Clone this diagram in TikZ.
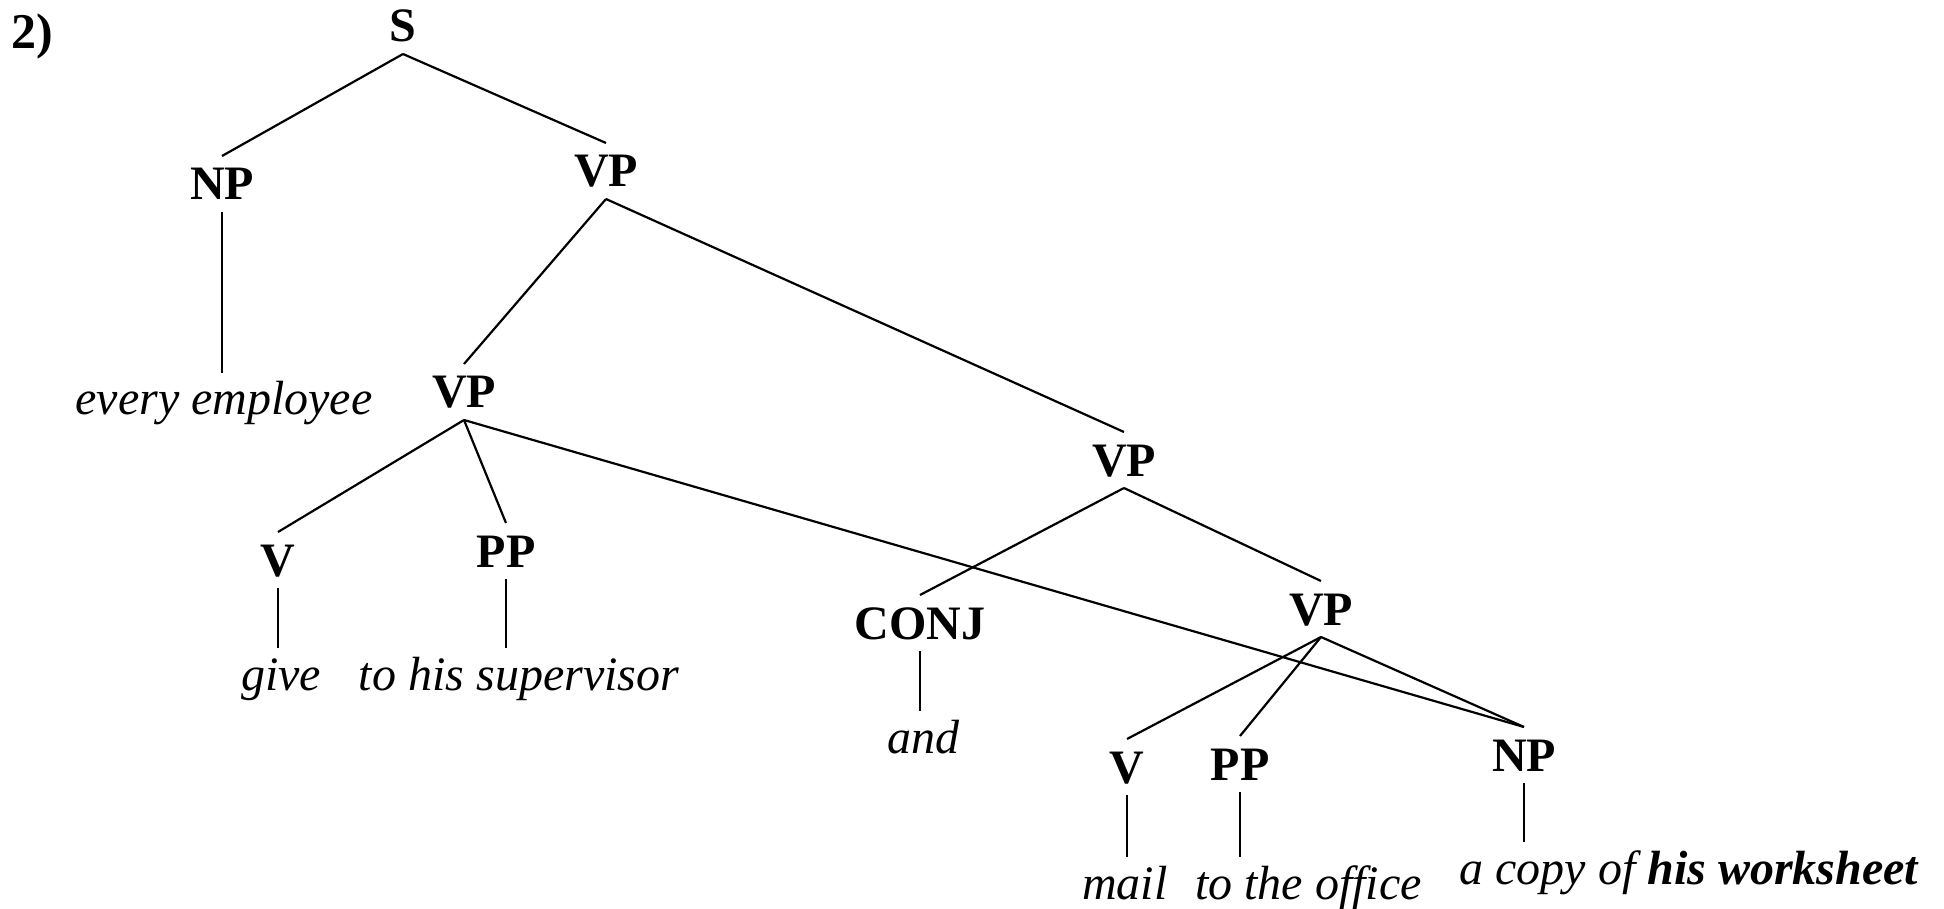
\documentclass[tikz,border=0pt]{standalone}
\usepackage{fontspec}
\setmainfont{Liberation Serif}
\begin{document}
\begin{tikzpicture}[x=0.5pt,y=-0.5pt,
  lab/.style={font=\bfseries\fontsize{24}{24}\selectfont, inner sep=0pt, outer sep=6pt, text height=16pt, text depth=0pt},
  term/.style={font=\itshape\fontsize{24}{24}\selectfont, inner sep=0pt, outer sep=6pt, text height=15pt, text depth=5pt},
  br/.style={line width=1.1pt}]
\useasboundingbox (0,0) rectangle (1944,909);
% labels
\node[font=\bfseries\fontsize{25}{25}\selectfont, inner sep=0pt] (num) at (32,36) {2)};
\node[lab] (S) at (403,26) {S};
\node[lab] (NP1) at (222,184) {NP};
\node[lab] (VP1) at (606,171) {VP};
\node[lab] (VP2) at (464,392) {VP};
\node[lab] (VP3) at (1124,460) {VP};
\node[lab] (V1) at (278,560) {V};
\node[lab] (PP1) at (506,551) {PP};
\node[lab] (CONJ) at (920,623) {CONJ};
\node[lab] (VP4) at (1321,609) {VP};
\node[lab] (V2) at (1127,767) {V};
\node[lab] (PP2) at (1240,764) {PP};
\node[lab] (NP2) at (1524,755) {NP};
% terminals
\node[term, anchor=base] (emp) at (224,415) {every employee};
\node[term, anchor=base] (give) at (281,690) {give};
\node[term, anchor=base] (sup) at (519,690) {to his supervisor};
\node[term, anchor=base] (and) at (923,753) {and};
\node[term, anchor=base] (mail) at (1125,899) {mail};
\node[term, anchor=base west] (office) at (1183,899) {to the office};
\node[term, anchor=base] (wks) at (1689,884) {a copy of \textbf{his worksheet}};
% branches
\draw[br] (S.south) -- (NP1.north);
\draw[br] (S.south) -- (VP1.north);
\draw[br] (NP1.south) -- (NP1.south |- emp.north);
\draw[br] (VP1.south) -- (VP2.north);
\draw[br] (VP1.south) -- (VP3.north);
\draw[br] (VP2.south) -- (V1.north);
\draw[br] (VP2.south) -- (PP1.north);
\draw[br] (VP2.south) -- (NP2.north);
\draw[br] (V1.south) -- (V1.south |- give.north);
\draw[br] (PP1.south) -- (PP1.south |- sup.north);
\draw[br] (VP3.south) -- (CONJ.north);
\draw[br] (VP3.south) -- (VP4.north);
\draw[br] (CONJ.south) -- (CONJ.south |- and.north);
\draw[br] (VP4.south) -- (V2.north);
\draw[br] (VP4.south) -- (PP2.north);
\draw[br] (VP4.south) -- (NP2.north);
\draw[br] (V2.south) -- (V2.south |- mail.north);
\draw[br] (PP2.south) -- (PP2.south |- office.north);
\draw[br] (NP2.south) -- (NP2.south |- wks.north);
\end{tikzpicture}
\end{document}
